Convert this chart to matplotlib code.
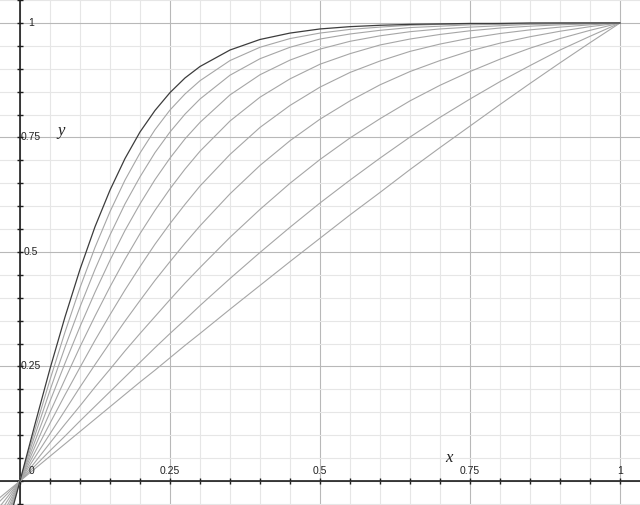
import matplotlib
matplotlib.use("Agg")
import matplotlib.pyplot as plt
import numpy as np
from matplotlib.ticker import MultipleLocator

x_vals = [-0.05, 0, 0.025, 0.05, 0.075, 0.1, 0.125, 0.15, 0.175, 0.2, 0.225, 0.25, 0.275,
          0.3, 0.35, 0.4, 0.45, 0.5, 0.55, 0.6, 0.65, 0.7, 0.75, 0.8, 0.85, 0.9, 0.95, 1.0]

# family of curves, bottom (flattest) to top (steepest)
curve_1 = [-0.054, 0, 0.027, 0.054, 0.081, 0.108, 0.135, 0.162, 0.189, 0.216, 0.242, 0.269, 0.296,
           0.322, 0.375, 0.427, 0.479, 0.530, 0.581, 0.630, 0.680, 0.728, 0.775, 0.822, 0.868, 0.913, 0.957, 1.000]
curve_2 = [-0.066, 0, 0.033, 0.066, 0.098, 0.131, 0.163, 0.195, 0.227, 0.259, 0.291, 0.322, 0.352,
           0.383, 0.442, 0.499, 0.554, 0.607, 0.657, 0.705, 0.751, 0.794, 0.834, 0.872, 0.907, 0.941, 0.971, 1.000]
curve_3 = [-0.083, 0, 0.041, 0.083, 0.124, 0.164, 0.205, 0.244, 0.284, 0.322, 0.359, 0.396, 0.432,
           0.466, 0.532, 0.593, 0.650, 0.702, 0.749, 0.791, 0.830, 0.864, 0.894, 0.921, 0.945, 0.966, 0.984, 1.000]
curve_4 = [-0.103, 0, 0.052, 0.103, 0.154, 0.205, 0.254, 0.302, 0.349, 0.394, 0.438, 0.479, 0.519,
           0.557, 0.627, 0.689, 0.743, 0.790, 0.830, 0.865, 0.894, 0.918, 0.939, 0.956, 0.970, 0.982, 0.992, 1.000]
curve_5 = [-0.126, 0, 0.063, 0.126, 0.188, 0.248, 0.307, 0.363, 0.417, 0.468, 0.517, 0.562, 0.604,
           0.644, 0.713, 0.772, 0.820, 0.860, 0.892, 0.917, 0.938, 0.954, 0.967, 0.977, 0.985, 0.991, 0.996, 1.000]
curve_6 = [-0.150, 0, 0.075, 0.150, 0.222, 0.293, 0.360, 0.424, 0.484, 0.540, 0.591, 0.638, 0.681,
           0.720, 0.786, 0.838, 0.878, 0.910, 0.933, 0.952, 0.965, 0.975, 0.983, 0.989, 0.993, 0.996, 0.998, 1.000]
curve_7 = [-0.174, 0, 0.087, 0.174, 0.257, 0.337, 0.412, 0.482, 0.547, 0.605, 0.658, 0.705, 0.747,
           0.783, 0.843, 0.887, 0.919, 0.943, 0.960, 0.972, 0.981, 0.987, 0.991, 0.994, 0.997, 0.998, 0.999, 1.000]
curve_8 = [-0.198, 0, 0.100, 0.198, 0.292, 0.380, 0.462, 0.537, 0.605, 0.664, 0.717, 0.762, 0.801,
           0.834, 0.886, 0.922, 0.947, 0.965, 0.976, 0.984, 0.990, 0.993, 0.996, 0.997, 0.998, 0.999, 1.000, 1.000]
curve_9 = [-0.221, 0, 0.112, 0.221, 0.325, 0.422, 0.510, 0.588, 0.657, 0.716, 0.767, 0.810, 0.845,
           0.874, 0.918, 0.947, 0.966, 0.978, 0.986, 0.991, 0.995, 0.997, 0.998, 0.999, 0.999, 1.000, 1.000, 1.000]
curve_top = [-0.245, 0, 0.124, 0.245, 0.358, 0.462, 0.555, 0.635, 0.704, 0.762, 0.809, 0.848, 0.880,
             0.905, 0.941, 0.964, 0.978, 0.987, 0.992, 0.995, 0.997, 0.998, 0.999, 0.999, 1.000, 1.000, 1.000, 1.000]

gray_curves = [curve_1, curve_2, curve_3, curve_4, curve_5, curve_6, curve_7, curve_8, curve_9]

tick_vals = [0.25, 0.5, 0.75, 1]
tick_labels = ["0.25", "0.5", "0.75", "1"]

fig = plt.figure(figsize=(6.4, 5.05), dpi=100)
ax = fig.add_axes([0, 0, 1, 1])
ax.set_xlim(-0.0333, 1.0333)
ax.set_ylim(-0.0524, 1.0502)

# grid: light every 0.05, darker every 0.25
ax.xaxis.set_major_locator(MultipleLocator(0.25))
ax.yaxis.set_major_locator(MultipleLocator(0.25))
ax.xaxis.set_minor_locator(MultipleLocator(0.05))
ax.yaxis.set_minor_locator(MultipleLocator(0.05))
ax.grid(which="minor", color="#e6e6e6", lw=0.8)
ax.grid(which="major", color="#b8b8b8", lw=0.8)
ax.set_axisbelow(True)

# axes through the origin
for s in ["top", "right"]:
    ax.spines[s].set_visible(False)
ax.spines["left"].set_position(("data", 0))
ax.spines["bottom"].set_position(("data", 0))
for s in ["left", "bottom"]:
    ax.spines[s].set_color("#1e1e1e")
    ax.spines[s].set_linewidth(1.2)
ax.tick_params(which="both", direction="inout", length=4.5, width=1.0, color="#1e1e1e",
               labelbottom=False, labelleft=False)

for ys in gray_curves:
    ax.plot(x_vals, ys, color="#a6a6a6", lw=0.8, zorder=3)
ax.plot(x_vals, curve_top, color="#3c3c3c", lw=0.9, zorder=4)

lab_font = dict(family="Liberation Sans", fontsize=7.5, color="#222222")
ax.annotate("0", (0, 0), xytext=(8, 7), textcoords="offset points",
            ha="center", va="center", **lab_font)
for v, t in zip(tick_vals, tick_labels):
    ax.annotate(t, (v, 0), xytext=(0, 7), textcoords="offset points",
                ha="center", va="center", **lab_font)
    ax.annotate(t, (0, v), xytext=(8, 0), textcoords="offset points",
                ha="center", va="center", **lab_font)

ax.text(0.714, 0.051, "x", family="Liberation Serif", style="italic", fontsize=12,
        ha="center", va="center", color="#222222")
ax.text(0.068, 0.764, "y", family="Liberation Serif", style="italic", fontsize=12,
        ha="center", va="center", color="#222222")

fig.savefig("out.png", dpi=100)
